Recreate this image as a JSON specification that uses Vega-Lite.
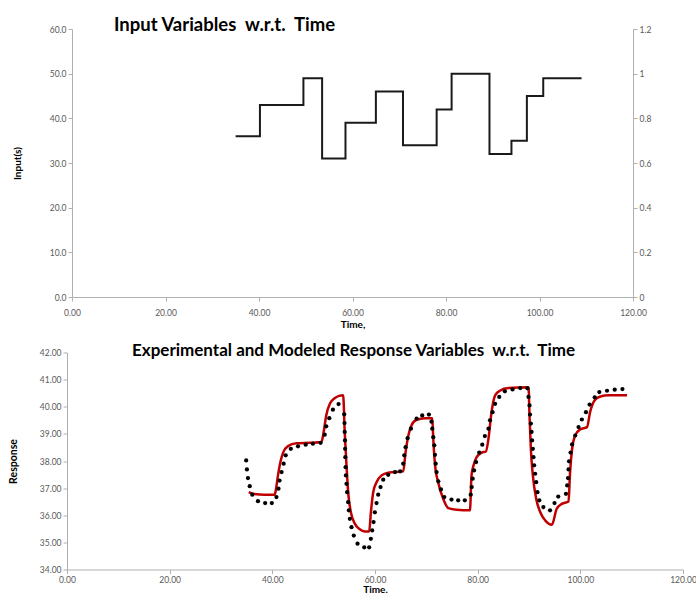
{
  "$schema": "https://vega.github.io/schema/vega-lite/v6.json",
  "padding": {"left": 8, "top": 15, "right": 0, "bottom": 0},
  "background": "white",
  "config": {
    "font": "Lato",
    "view": {"stroke": null},
    "axis": {"grid": false, "domainColor": "#b0b0b0", "tickColor": "#b0b0b0", "tickSize": 4, "labelColor": "#595959", "labelFontSize": 8.5, "labelFont": "Lato", "labelFlush": false, "labelOverlap": false, "titleFont": "Lato", "titleFontSize": 10, "titleFontWeight": "bold", "titleColor": "#000000"},
    "title": {"font": "Lato", "fontWeight": "bold", "color": "#000000", "frame": "group", "anchor": "start"}
  },
  "datasets": {
    "input": [
      {"Time": 35.0, "Input": 36}, {"Time": 40.2, "Input": 43}, {"Time": 49.5, "Input": 49},
      {"Time": 53.5, "Input": 31}, {"Time": 58.5, "Input": 39}, {"Time": 65.0, "Input": 46},
      {"Time": 70.8, "Input": 34}, {"Time": 78.0, "Input": 42}, {"Time": 81.2, "Input": 50},
      {"Time": 89.3, "Input": 32}, {"Time": 94.0, "Input": 35}, {"Time": 97.3, "Input": 45},
      {"Time": 100.8, "Input": 49}, {"Time": 109.0, "Input": 49}
    ],
    "experimental": [
      {"Time": 34.9, "Response": 38.02}, {"Time": 35.05, "Response": 37.69}, {"Time": 35.25, "Response": 37.37},
      {"Time": 35.6, "Response": 37.07}, {"Time": 36.1, "Response": 36.76}, {"Time": 37.2, "Response": 36.52},
      {"Time": 38.6, "Response": 36.45}, {"Time": 39.9, "Response": 36.45}, {"Time": 40.8, "Response": 36.67},
      {"Time": 41.2, "Response": 36.98}, {"Time": 41.4, "Response": 37.28}, {"Time": 41.8, "Response": 37.59},
      {"Time": 42.2, "Response": 37.9}, {"Time": 42.6, "Response": 38.21}, {"Time": 43.6, "Response": 38.45},
      {"Time": 45.0, "Response": 38.54}, {"Time": 46.5, "Response": 38.6}, {"Time": 47.9, "Response": 38.64},
      {"Time": 49.4, "Response": 38.67}, {"Time": 50.2, "Response": 38.97}, {"Time": 50.5, "Response": 39.28},
      {"Time": 51.1, "Response": 39.58}, {"Time": 51.8, "Response": 39.89}, {"Time": 52.9, "Response": 40.1},
      {"Time": 54.0, "Response": 39.72}, {"Time": 54.06, "Response": 39.4}, {"Time": 54.1, "Response": 39.07},
      {"Time": 54.15, "Response": 38.76}, {"Time": 54.18, "Response": 38.45}, {"Time": 54.22, "Response": 38.14},
      {"Time": 54.27, "Response": 37.77}, {"Time": 54.33, "Response": 37.47}, {"Time": 54.45, "Response": 37.16},
      {"Time": 54.57, "Response": 36.85}, {"Time": 54.77, "Response": 36.48}, {"Time": 54.9, "Response": 36.18},
      {"Time": 55.1, "Response": 35.87}, {"Time": 55.42, "Response": 35.56}, {"Time": 55.87, "Response": 35.25},
      {"Time": 56.6, "Response": 34.95}, {"Time": 57.9, "Response": 34.82}, {"Time": 58.86, "Response": 34.82},
      {"Time": 59.19, "Response": 35.13}, {"Time": 59.45, "Response": 35.44}, {"Time": 59.72, "Response": 35.75},
      {"Time": 59.97, "Response": 36.11}, {"Time": 60.3, "Response": 36.45}, {"Time": 60.62, "Response": 36.76},
      {"Time": 61.08, "Response": 37.04}, {"Time": 61.6, "Response": 37.31}, {"Time": 62.57, "Response": 37.49},
      {"Time": 63.9, "Response": 37.59}, {"Time": 64.9, "Response": 37.62}, {"Time": 65.5, "Response": 37.9},
      {"Time": 65.7, "Response": 38.21}, {"Time": 65.96, "Response": 38.51}, {"Time": 66.35, "Response": 38.84},
      {"Time": 67.0, "Response": 39.19}, {"Time": 68.1, "Response": 39.56}, {"Time": 69.2, "Response": 39.68},
      {"Time": 70.5, "Response": 39.71}, {"Time": 71.0, "Response": 39.45}, {"Time": 71.16, "Response": 39.19},
      {"Time": 71.35, "Response": 38.88}, {"Time": 71.55, "Response": 38.58}, {"Time": 71.68, "Response": 38.23},
      {"Time": 71.82, "Response": 37.9}, {"Time": 72.0, "Response": 37.59}, {"Time": 72.33, "Response": 37.25},
      {"Time": 72.85, "Response": 36.95}, {"Time": 73.5, "Response": 36.67}, {"Time": 74.9, "Response": 36.58},
      {"Time": 76.2, "Response": 36.55}, {"Time": 77.5, "Response": 36.55}, {"Time": 78.65, "Response": 36.76},
      {"Time": 78.84, "Response": 37.04}, {"Time": 79.03, "Response": 37.35}, {"Time": 79.3, "Response": 37.65},
      {"Time": 79.7, "Response": 37.96}, {"Time": 80.3, "Response": 38.31}, {"Time": 80.9, "Response": 38.6},
      {"Time": 81.4, "Response": 38.92}, {"Time": 82.1, "Response": 39.19}, {"Time": 82.4, "Response": 39.5},
      {"Time": 82.9, "Response": 39.8}, {"Time": 83.4, "Response": 40.11}, {"Time": 84.2, "Response": 40.36},
      {"Time": 85.3, "Response": 40.57}, {"Time": 86.8, "Response": 40.64}, {"Time": 88.3, "Response": 40.69},
      {"Time": 89.7, "Response": 40.68}, {"Time": 89.9, "Response": 40.36}, {"Time": 90.1, "Response": 40.05},
      {"Time": 90.2, "Response": 39.71}, {"Time": 90.36, "Response": 39.38}, {"Time": 90.5, "Response": 39.07},
      {"Time": 90.6, "Response": 38.76}, {"Time": 90.75, "Response": 38.45}, {"Time": 90.87, "Response": 38.14},
      {"Time": 91.0, "Response": 37.84}, {"Time": 91.2, "Response": 37.53}, {"Time": 91.4, "Response": 37.22},
      {"Time": 91.65, "Response": 36.85}, {"Time": 92.0, "Response": 36.55}, {"Time": 92.8, "Response": 36.3},
      {"Time": 94.1, "Response": 36.18}, {"Time": 94.97, "Response": 36.45}, {"Time": 95.7, "Response": 36.69},
      {"Time": 97.2, "Response": 36.79}, {"Time": 97.44, "Response": 37.1}, {"Time": 97.6, "Response": 37.37},
      {"Time": 97.7, "Response": 37.69}, {"Time": 97.8, "Response": 37.99}, {"Time": 98.1, "Response": 38.31},
      {"Time": 98.4, "Response": 38.61}, {"Time": 99.0, "Response": 38.94}, {"Time": 99.65, "Response": 39.25},
      {"Time": 100.3, "Response": 39.53}, {"Time": 101.1, "Response": 39.8}, {"Time": 101.8, "Response": 40.08},
      {"Time": 102.8, "Response": 40.35}, {"Time": 103.7, "Response": 40.54}, {"Time": 105.2, "Response": 40.59},
      {"Time": 106.7, "Response": 40.63}, {"Time": 108.2, "Response": 40.65}
    ],
    "model": [
      {"Time": 35.4, "Model": 36.85}, {"Time": 36.5, "Model": 36.78}, {"Time": 38.5, "Model": 36.76},
      {"Time": 40.45, "Model": 36.76}, {"Time": 40.6, "Model": 36.85}, {"Time": 41.1, "Model": 37.47},
      {"Time": 41.57, "Model": 37.96}, {"Time": 42.1, "Model": 38.31}, {"Time": 43.05, "Model": 38.55},
      {"Time": 44.7, "Model": 38.65}, {"Time": 47.3, "Model": 38.67}, {"Time": 49.57, "Model": 38.7},
      {"Time": 50.0, "Model": 39.07}, {"Time": 50.5, "Model": 39.68}, {"Time": 51.2, "Model": 40.11},
      {"Time": 52.2, "Model": 40.32}, {"Time": 53.0, "Model": 40.4}, {"Time": 53.8, "Model": 40.42},
      {"Time": 54.1, "Model": 39.07}, {"Time": 54.45, "Model": 37.84}, {"Time": 54.77, "Model": 36.85},
      {"Time": 55.3, "Model": 36.11}, {"Time": 56.07, "Model": 35.69}, {"Time": 57.04, "Model": 35.48},
      {"Time": 58.0, "Model": 35.4}, {"Time": 58.86, "Model": 35.4}, {"Time": 59.2, "Model": 36.11},
      {"Time": 59.65, "Model": 36.85}, {"Time": 60.3, "Model": 37.22}, {"Time": 61.28, "Model": 37.47},
      {"Time": 62.57, "Model": 37.57}, {"Time": 65.5, "Model": 37.62}, {"Time": 65.96, "Model": 38.33},
      {"Time": 66.5, "Model": 38.94}, {"Time": 67.1, "Model": 39.31}, {"Time": 68.1, "Model": 39.52},
      {"Time": 69.7, "Model": 39.58}, {"Time": 71.16, "Model": 39.58}, {"Time": 71.35, "Model": 38.82},
      {"Time": 71.7, "Model": 37.84}, {"Time": 72.3, "Model": 37.22}, {"Time": 73.3, "Model": 36.6},
      {"Time": 74.3, "Model": 36.26}, {"Time": 75.9, "Model": 36.2}, {"Time": 78.5, "Model": 36.18},
      {"Time": 78.8, "Model": 37.47}, {"Time": 79.2, "Model": 37.84}, {"Time": 79.8, "Model": 38.14},
      {"Time": 80.8, "Model": 38.31}, {"Time": 81.6, "Model": 38.35}, {"Time": 82.1, "Model": 38.82},
      {"Time": 82.7, "Model": 39.8}, {"Time": 83.4, "Model": 40.42}, {"Time": 84.4, "Model": 40.6},
      {"Time": 86.0, "Model": 40.69}, {"Time": 89.9, "Model": 40.72}, {"Time": 90.1, "Model": 39.68},
      {"Time": 90.36, "Model": 38.45}, {"Time": 90.75, "Model": 37.47}, {"Time": 91.4, "Model": 36.61},
      {"Time": 92.2, "Model": 36.11}, {"Time": 93.15, "Model": 35.81}, {"Time": 94.45, "Model": 35.65},
      {"Time": 95.4, "Model": 36.24}, {"Time": 96.4, "Model": 36.42}, {"Time": 97.7, "Model": 36.51},
      {"Time": 98.0, "Model": 37.59}, {"Time": 98.4, "Model": 38.45}, {"Time": 99.0, "Model": 38.94},
      {"Time": 100.0, "Model": 39.17}, {"Time": 101.3, "Model": 39.25}, {"Time": 101.9, "Model": 39.8},
      {"Time": 102.8, "Model": 40.24}, {"Time": 103.9, "Model": 40.38}, {"Time": 105.5, "Model": 40.42},
      {"Time": 109.1, "Model": 40.42}
    ]
  },
  "spacing": 11.5,
  "resolve": {"scale": {"x": "independent", "y": "independent"}},
  "vconcat": [
    {
      "width": 566,
      "height": 268,
      "title": {"text": "Input Variables \u00a0w.r.t. \u00a0Time", "fontSize": 18.5, "dx": 47, "offset": -9},
      "layer": [
        {
          "data": {"name": "input"},
          "mark": {"type": "line", "interpolate": "step-after", "color": "#1a1a1a", "strokeWidth": 2},
          "encoding": {
            "x": {"field": "Time", "type": "quantitative", "scale": {"domain": [0, 120], "nice": false, "range": [5, 566]},
                  "axis": {"values": [0, 20, 40, 60, 80, 100, 120], "format": ".2f", "title": "Time,", "labelPadding": 7, "titlePadding": 3}},
            "y": {"field": "Input", "type": "quantitative", "scale": {"domain": [0, 60], "nice": false},
                  "axis": {"values": [0, 10, 20, 30, 40, 50, 60], "format": ".1f", "title": "Input(s)", "offset": -5, "titlePadding": 27}}
          }
        },
        {
          "data": {"name": "input"},
          "mark": {"type": "rule", "opacity": 0},
          "encoding": {
            "y": {"datum": 0, "type": "quantitative", "scale": {"domain": [0, 1.2], "nice": false},
                  "axis": {"orient": "right", "values": [0, 0.2, 0.4, 0.6, 0.8, 1, 1.2], "format": "~g", "title": null}}
          }
        }
      ],
      "resolve": {"scale": {"y": "independent"}}
    },
    {
      "width": 616,
      "height": 217,
      "title": {"text": "Experimental and Modeled Response Variables \u00a0w.r.t. \u00a0Time", "fontSize": 17, "dx": 65, "offset": -11},
      "layer": [
        {
          "data": {"name": "model"},
          "mark": {"type": "line", "interpolate": "monotone", "color": "#c00000", "strokeWidth": 2.5},
          "encoding": {
            "x": {"field": "Time", "type": "quantitative", "scale": {"domain": [0, 120], "nice": false},
                  "axis": {"values": [0, 20, 40, 60, 80, 100, 120], "format": ".2f", "title": "Time.", "labelPadding": 2, "titlePadding": 0}},
            "y": {"field": "Model", "type": "quantitative", "scale": {"domain": [34, 42], "nice": false, "zero": false},
                  "axis": {"values": [34, 35, 36, 37, 38, 39, 40, 41, 42], "format": ".2f", "title": "Response", "titleFontSize": 10.5, "titlePadding": 21}}
          }
        },
        {
          "data": {"name": "experimental"},
          "mark": {"type": "circle", "size": 18, "color": "#000000", "opacity": 1},
          "encoding": {
            "x": {"field": "Time", "type": "quantitative",
                  "axis": {"values": [0, 20, 40, 60, 80, 100, 120], "format": ".2f", "title": "Time.", "labelPadding": 2, "titlePadding": 0}},
            "y": {"field": "Response", "type": "quantitative",
                  "axis": {"values": [34, 35, 36, 37, 38, 39, 40, 41, 42], "format": ".2f", "title": "Response", "titleFontSize": 10.5, "titlePadding": 21}}
          }
        }
      ]
    }
  ]
}
